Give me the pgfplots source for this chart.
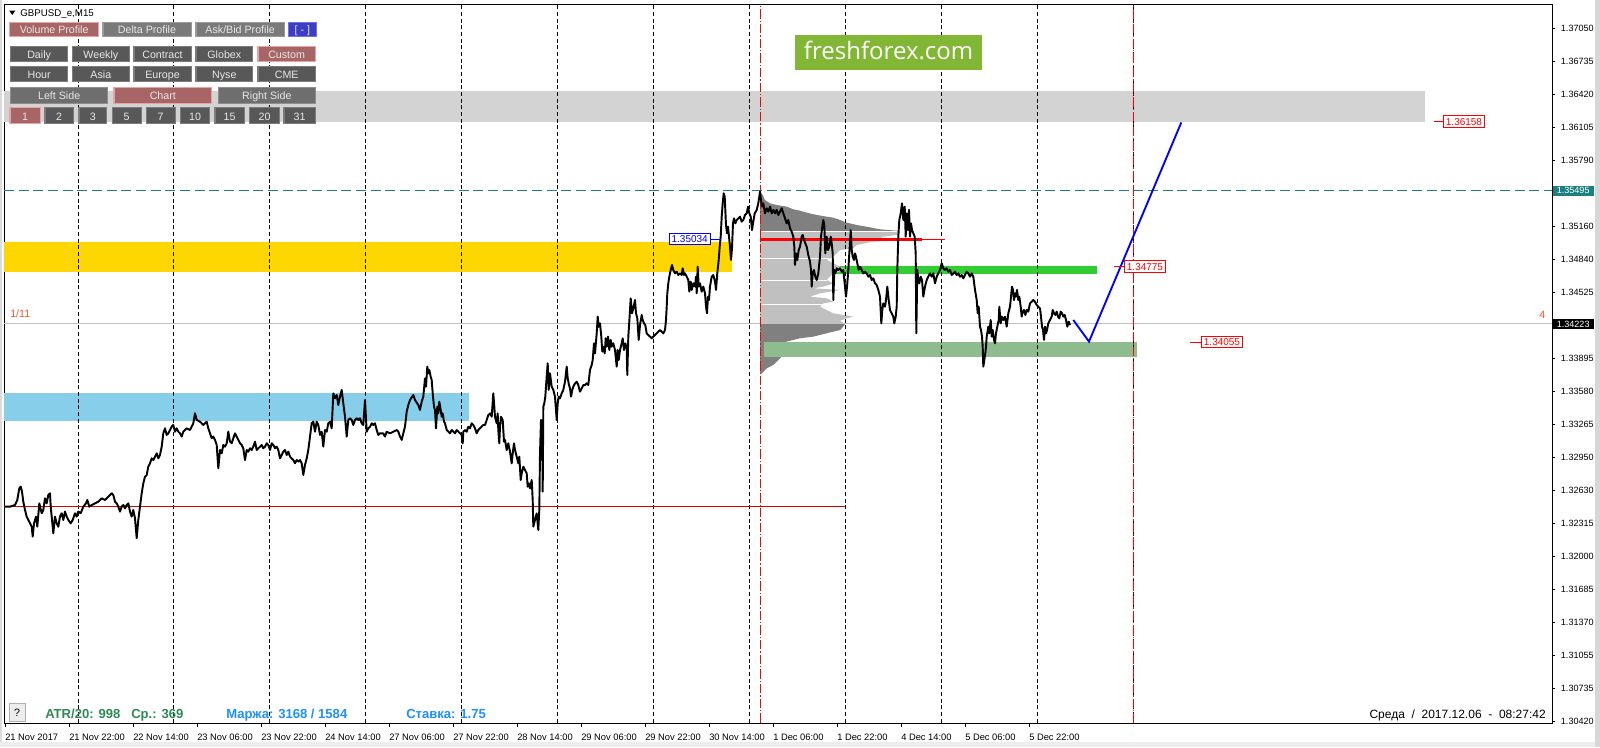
\documentclass[border=0pt]{standalone}
\usepackage{fontspec}
\setmainfont{Liberation Sans}
\newfontfamily\logofont{Open Sans}
\usepackage{pgfplots}
\pgfplotsset{compat=1.18}
\definecolor{bandgrey}{HTML}{D3D3D3}
\definecolor{goldc}{HTML}{FFD700}
\definecolor{skyb}{HTML}{87CEEB}
\definecolor{limeg}{HTML}{32CD32}
\definecolor{dsg}{HTML}{8FBC8F}
\definecolor{tealc}{HTML}{1A8080}
\definecolor{profdark}{HTML}{808080}
\definecolor{proflight}{HTML}{C0C0C0}
\definecolor{silverl}{HTML}{C0C0C0}
\definecolor{orng}{HTML}{F2592A}
\definecolor{seag}{HTML}{2E8B57}
\definecolor{dodger}{HTML}{1E90FF}
\definecolor{logog}{HTML}{82B735}
\definecolor{rosy}{HTML}{A86565}
\definecolor{rosyb}{HTML}{E3A5A5}
\definecolor{btngrey}{HTML}{7A7A7A}
\definecolor{btngreyb}{HTML}{9A9A9A}
\definecolor{btndark}{HTML}{585858}
\definecolor{btndarkb}{HTML}{7C7C7C}
\definecolor{btnmid}{HTML}{6E6E6E}
\definecolor{btnmidb}{HTML}{8E8E8E}
\definecolor{btnblue}{HTML}{3C3CC4}
\definecolor{btnblueb}{HTML}{7070F0}
\definecolor{btntext}{HTML}{E8E8E8}
\definecolor{pocred}{HTML}{FF0000}
\newcommand\lblfont{\fontsize{7.5}{9}\selectfont}
\newcommand\btnfont{\fontsize{8}{9}\selectfont}
\newcommand{\btn}[7]{%
  \fill[#5] (#1,#2) rectangle (#3,#4);
  \draw[#6, line width=0.9pt] (#1+0.6,#2+0.6) rectangle (#3-0.6,#4-0.6);
  \node[text=btntext, font=\btnfont, inner sep=0pt, text height=5.8pt, text depth=0pt] at ({(#1+#3)/2},{(#2+#4)/2+0.6}) {#7};}
\begin{document}
\begin{tikzpicture}
\path[use as bounding box, fill=white] (0,0) rectangle (1200pt,560.25pt);
\fill[bandgrey!80] (0pt,0pt) rectangle (1.5pt,560.25pt);
\fill[bandgrey!90] (1196pt,0pt) rectangle (1200pt,560.25pt);
\fill[bandgrey!40] (0pt,0pt) rectangle (1196pt,3.5pt);
\begin{axis}[
  at={(3pt,17.625pt)}, anchor=south west,
  scale only axis, width=1161pt, height=539.25pt,
  xmin=4, xmax=1552, ymin=1.304028, ymax=1.372776,
  clip mode=individual, no markers,
  axis line style={line width=0.75pt},
  tick style={black, line width=0.6pt},
  xtick pos=left, ytick pos=right, xticklabel pos=left, yticklabel pos=right,
  tick align=outside, major tick length=2.5pt,
  xtick={5,69,133,197,261,325,389,453,517,581,645,709,773,837,901,965,1029},
  xticklabels={21 Nov 2017,21 Nov 22:00,22 Nov 14:00,23 Nov 06:00,23 Nov 22:00,24 Nov 14:00,27 Nov 06:00,27 Nov 22:00,28 Nov 14:00,29 Nov 06:00,29 Nov 22:00,30 Nov 14:00,1 Dec 06:00,1 Dec 22:00,4 Dec 14:00,5 Dec 06:00,5 Dec 22:00},
  xticklabel style={font=\fontsize{7}{8}\selectfont, anchor=north west, inner sep=0pt, yshift=-4.8pt},
  ytick={1.37050,1.36735,1.36420,1.36105,1.35790,1.35475,1.35160,1.34840,1.34525,1.34210,1.33895,1.33580,1.33265,1.32950,1.32630,1.32315,1.32000,1.31685,1.31370,1.31055,1.30735,1.30420},
  yticklabels={1.37050,1.36735,1.36420,1.36105,1.35790,{},1.35160,1.34840,1.34525,{},1.33895,1.33580,1.33265,1.32950,1.32630,1.32315,1.32000,1.31685,1.31370,1.31055,1.30735,1.30420},
  yticklabel style={font=\fontsize{6.8}{8}\selectfont, anchor=west, inner sep=0pt, xshift=4pt},
]
% bands
\addplot[draw=none, fill=bandgrey] coordinates {(4,1.36154) (1425,1.36154) (1425,1.36450) (4,1.36450)};
\addplot[draw=none, fill=goldc] coordinates {(4,1.34723) (732,1.34723) (732,1.35009) (4,1.35009)};
\addplot[draw=none, fill=skyb] coordinates {(4,1.33291) (469,1.33291) (469,1.33564) (4,1.33564)};
\addplot[draw=none, fill=limeg] coordinates {(822,1.34701) (1097,1.34701) (1097,1.34780) (822,1.34780)};
% volume profile
\addplot[draw=none, fill=profdark] coordinates {(760,1.35488)(762.7,1.35456)(765,1.35408)(770,1.35376)(776.7,1.35360)(786.7,1.35345)(793.3,1.35319)(800,1.35306)(806.7,1.35287)(816.7,1.35265)(826.7,1.35249)(833.3,1.35239)(840,1.35217)(846.7,1.35192)(856.7,1.35169)(870,1.35147)(880,1.35128)(896.7,1.35115)(898.3,1.35105)(760,1.35105)};
\addplot[draw=none, fill=proflight] coordinates {(760,1.35105)(898.3,1.35105)(900,1.35090)(896.7,1.35074)(883.3,1.35058)(880,1.35042)(873.3,1.35035)(900,1.35026)(873.3,1.35010)(856.7,1.34978)(853.3,1.34946)(840,1.34930)(836.7,1.34898)(833.3,1.34866)(830,1.34850)(826.7,1.34835)(833.3,1.34803)(840,1.34771)(846.7,1.34739)(833.3,1.34707)(830,1.34675)(826.7,1.34643)(833.3,1.34611)(823.3,1.34580)(813.3,1.34564)(840,1.34548)(820,1.34516)(810,1.34484)(826.7,1.34468)(833.3,1.34436)(823.3,1.34420)(820,1.34388)(826.7,1.34356)(833.3,1.34325)(853.3,1.34293)(846.7,1.34277)(840,1.34254)(843.3,1.34235)(845,1.34223)(760,1.34223)};
\addplot[draw=none, fill=profdark] coordinates {(760,1.34223)(845,1.34223)(843.3,1.34197)(840,1.34165)(826.7,1.34134)(813.3,1.34102)(800,1.34086)(786.7,1.34054)(780,1.34038)(773.3,1.34022)(770,1.33990)(766.7,1.33974)(780,1.33958)(783.3,1.33926)(780,1.33894)(776.7,1.33863)(773.3,1.33831)(766.7,1.33799)(763,1.33760)(760,1.33740)};
\addplot[white, line width=0.6pt] coordinates {(760,1.35105)(897,1.35105)};
\addplot[white, line width=0.6pt] coordinates {(760,1.34850)(829,1.34850)};
\addplot[white, line width=0.6pt] coordinates {(760,1.34637)(827,1.34637)};
\addplot[white, line width=0.6pt] coordinates {(760,1.34414)(822,1.34414)};
\addplot[draw=none, fill=dsg] coordinates {(764,1.33910) (1137,1.33910) (1137,1.34050) (764,1.34050)};
% vertical grid lines
\pgfplotsinvokeforeach{78,173.5,269,365,461,557,653,749.5,845.5,941.5,1037.5,1133}{
  \addplot[black, line width=0.75pt, dash pattern=on 3pt off 2pt] coordinates {(#1,1.3041) (#1,1.3727)};
}
% horizontal lines
\addplot[tealc, line width=0.75pt, dash pattern=on 7.5pt off 3.5pt] coordinates {(4,1.35495) (1552,1.35495)};
\addplot[silverl, line width=0.75pt] coordinates {(4,1.34223) (1552,1.34223)};
\addplot[red!85!black, line width=0.75pt] coordinates {(4,1.32473) (845,1.32473)};
\addplot[pocred, line width=2.4pt] coordinates {(760,1.35030) (922,1.35030)};
\addplot[pocred, line width=0.75pt] coordinates {(922,1.35030) (945,1.35030)};
% red dashed verticals
\addplot[pocred, line width=0.75pt, dash pattern=on 7pt off 1.5pt on 1pt off 1.5pt] coordinates {(760,1.3041) (760,1.3727)};
\addplot[pocred, line width=0.75pt, dash pattern=on 7pt off 1.5pt on 1pt off 1.5pt] coordinates {(1133.5,1.3041) (1133.5,1.3727)};
% price
\addplot[black, line width=1.45pt, line join=round] coordinates {
(5,1.32476)(10,1.32476)(15,1.32492)(17.3,1.32540)(19.3,1.32652)(20.7,1.32668)(22,1.32620)(23.3,1.32524)(25,1.32444)(26.7,1.32381)(28.3,1.32349)(30,1.32317)(31.7,1.32285)(32.7,1.32190)(34,1.32317)(36,1.32381)(37.3,1.32285)(39.3,1.32508)(41.7,1.32413)(43.3,1.32444)(45,1.32556)(46.7,1.32508)(48.3,1.32588)(50,1.32604)(50.7,1.32476)(52.7,1.32285)(53.3,1.32221)(55,1.32381)(56.7,1.32317)(58.3,1.32285)(60,1.32381)(61.7,1.32413)(63.3,1.32349)(65,1.32429)(66.7,1.32381)(68.3,1.32349)(70.7,1.32317)(72.7,1.32349)(75,1.32413)(76.7,1.32381)(78.3,1.32429)(80.7,1.32413)(83.3,1.32476)(86,1.32508)(87.3,1.32540)(89.3,1.32476)(91.7,1.32492)(95,1.32508)(98.3,1.32524)(101.7,1.32556)(105,1.32540)(108.3,1.32572)(111.7,1.32604)(113.3,1.32588)(115,1.32524)(116.7,1.32508)(118.3,1.32476)(120,1.32429)(121.7,1.32476)(123.3,1.32492)(125,1.32460)(126.7,1.32492)(128.3,1.32508)(130,1.32429)(131.7,1.32381)(133.3,1.32444)(135,1.32365)(136.7,1.32174)(138.3,1.32349)(140,1.32476)(141.7,1.32604)(143.3,1.32699)(145,1.32763)(146.7,1.32779)(148.3,1.32859)(150,1.32891)(151.7,1.32938)(153.3,1.32922)(155,1.32954)(156.7,1.32986)(158.3,1.32938)(160,1.32970)(161.7,1.33050)(163.3,1.33177)(165,1.33225)(166.7,1.33162)(168.3,1.33177)(170,1.33209)(171.7,1.33241)(173.3,1.33257)(175,1.33193)(176.7,1.33225)(178.3,1.33193)(180,1.33177)(181.7,1.33146)(183.3,1.33193)(185,1.33209)(186.7,1.33225)(190,1.33209)(191.7,1.33241)(193.3,1.33273)(195,1.33369)(196.7,1.33305)(200,1.33289)(201.7,1.33273)(203.3,1.33257)(205,1.33273)(206.7,1.33289)(208.3,1.33225)(210,1.33177)(211.7,1.33130)(213.3,1.33146)(215,1.33114)(216.7,1.33066)(218.3,1.32843)(220,1.33018)(221.7,1.32986)(223.3,1.33066)(225,1.33050)(226.7,1.33082)(228.3,1.33193)(230,1.33098)(231.7,1.33082)(233.3,1.33130)(235,1.33177)(236.7,1.33146)(238.3,1.33114)(240,1.33082)(241.7,1.33066)(243.3,1.33034)(245,1.32922)(246.7,1.33018)(248.3,1.33002)(250,1.33034)(251.7,1.33018)(253.3,1.33050)(255,1.33098)(256.7,1.33018)(258.3,1.33034)(260,1.33050)(261.7,1.33066)(263.3,1.33034)(265,1.33050)(266.7,1.33082)(268.3,1.33066)(270,1.33018)(271.7,1.33082)(273.3,1.33066)(275,1.33034)(276.7,1.33050)(278.3,1.33018)(280,1.32938)(281.7,1.32970)(283.3,1.33002)(285,1.33018)(286.7,1.32970)(288.3,1.33002)(290,1.32954)(291.7,1.32938)(293.3,1.32922)(295,1.32891)(296.7,1.32922)(298.3,1.32907)(300,1.32922)(301.7,1.32891)(303.3,1.32779)(305,1.32875)(306.7,1.32938)(308.3,1.33018)(310,1.33146)(311.7,1.33273)(313.3,1.33289)(315,1.33193)(316.7,1.33289)(318.3,1.33257)(320,1.33162)(321.7,1.33193)(323.3,1.33050)(325,1.33209)(326.7,1.33193)(328.3,1.33273)(330,1.33289)(331.7,1.33225)(333.3,1.33560)(335,1.33512)(336.7,1.33544)(338.3,1.33448)(340,1.33528)(341.7,1.33592)(343.3,1.33464)(345,1.33337)(346.7,1.33146)(348.3,1.33305)(350,1.33321)(351.7,1.33305)(353.3,1.33257)(355,1.33305)(356.7,1.33321)(358.3,1.33305)(360,1.33321)(361.7,1.33273)(363.3,1.33257)(365,1.33496)(366.7,1.33193)(368.3,1.33225)(370,1.33241)(371.7,1.33273)(373.3,1.33257)(375,1.33273)(376.7,1.33209)(378.3,1.33162)(380,1.33177)(383.3,1.33177)(385,1.33146)(386.7,1.33193)(390,1.33177)(393.3,1.33193)(396.7,1.33209)(398.3,1.33193)(400,1.33146)(401.7,1.33114)(403.3,1.33177)(405,1.33241)(406.7,1.33385)(408.3,1.33448)(410,1.33496)(413.3,1.33544)(415,1.33496)(418.3,1.33448)(420,1.33401)
(421.7,1.33480)(423.3,1.33528)(425,1.33703)(426,1.33623)(427.3,1.33815)(428.3,1.33751)(429.3,1.33783)(430.7,1.33719)(431.7,1.33687)(432.7,1.33560)(434,1.33432)(435,1.33400)(436,1.33225)(437.3,1.33432)(438.3,1.33368)(439.3,1.33480)(440.7,1.33400)(441.7,1.33336)(442.7,1.33368)(444,1.33289)(445,1.33273)(446.7,1.33209)(448.3,1.33193)(450,1.33177)(451.7,1.33209)(453.3,1.33193)(455,1.33177)(456.7,1.33209)(458.3,1.33193)(460,1.33177)(461.7,1.33161)(462.7,1.33082)(463.3,1.33193)(465,1.33209)(466.7,1.33193)(468.3,1.33241)(470,1.33225)(471.7,1.33273)(473.3,1.33257)(475,1.33225)(476.7,1.33177)(478.3,1.33209)(480,1.33225)(481.7,1.33241)(483.3,1.33257)(485,1.33257)(486.7,1.33305)(488.3,1.33352)(490,1.33368)(491.7,1.33336)(493.3,1.33560)(494.3,1.33432)(495,1.33336)(496.7,1.33273)(497.7,1.33368)(498.3,1.33209)(499.3,1.33082)(500,1.33241)(501,1.33336)(502.7,1.33305)(504,1.33098)(505,1.33114)(506.7,1.33018)(508.3,1.33082)(510,1.33002)(511.7,1.32890)(512.7,1.32986)(514,1.33082)(515,1.33018)(516.7,1.32954)(518.3,1.32890)(519.3,1.32954)(520.7,1.32731)(521.7,1.32795)(523.3,1.32858)(525,1.32827)(526.7,1.32795)(527.7,1.32667)(529,1.32699)(530,1.32651)(531.7,1.32731)(532.7,1.32540)(533.3,1.32285)(535,1.32349)(536.7,1.32412)(538.3,1.32253)(539.3,1.32444)(540,1.32986)(541,1.33305)(541.7,1.32922)(542.3,1.33209)(542.7,1.32620)(543.3,1.33432)(544.3,1.33464)(545.3,1.33528)(546.7,1.33719)(547.7,1.33847)(548.7,1.33592)(550,1.33751)(551.7,1.33623)(553.3,1.33592)(555,1.33528)(556.7,1.33305)(557.7,1.33464)(558.7,1.33528)(560,1.33512)(561.7,1.33560)(563.3,1.33592)(565,1.33671)(566.7,1.33815)(567.7,1.33703)(569,1.33639)(570,1.33607)(571,1.33528)(572.3,1.33592)(573.3,1.33623)(575,1.33655)(576.7,1.33671)(578.3,1.33639)(580,1.33576)(581.7,1.33607)(583.3,1.33639)(585,1.33639)(586.7,1.33655)(588.3,1.33639)(590,1.33783)(591.7,1.33831)(592.7,1.33878)(594,1.34038)(595,1.33942)(596.7,1.34133)(597.7,1.34293)(598.7,1.34197)(600,1.34229)(601.3,1.34102)(602.3,1.33958)(603.3,1.34006)(604.7,1.33942)(605.7,1.34086)(606.7,1.34006)(608,1.34102)(609.3,1.33974)(610.7,1.34070)(611.7,1.34006)(613.3,1.34038)(615,1.33974)(616.7,1.33815)(617.7,1.33974)(618.7,1.33878)(620,1.33974)(621.3,1.34022)(622.7,1.34086)(624,1.33974)(625.3,1.34038)(626.7,1.33990)(627.3,1.33735)(628.3,1.34102)(629.3,1.34245)(630.7,1.34468)(632,1.34325)(633.3,1.34372)(635,1.34452)(636,1.34325)(637.3,1.34277)(638.7,1.34070)(640,1.34213)(641.7,1.34309)(642.7,1.34261)(644,1.34229)(645.3,1.34213)(646.7,1.34133)(648.3,1.34117)(650,1.34102)(651.7,1.34086)(653.3,1.34102)(655,1.34117)(656.7,1.34133)(658.3,1.34149)(660,1.34165)
(661.7,1.34149)(663.3,1.34133)(665,1.34165)(666,1.34261)(666.7,1.34388)(667.3,1.34516)(668.3,1.34612)(669.3,1.34675)(670.7,1.34739)(672,1.34787)(673.3,1.34739)(675,1.34707)(676.7,1.34723)(678.3,1.34691)(680,1.34707)(681.7,1.34691)(682.7,1.34755)(684,1.34691)(685,1.34707)(686.7,1.34675)(688.3,1.34643)(689.3,1.34532)(690.7,1.34628)(691.7,1.34548)(693.3,1.34612)(695,1.34580)(696,1.34675)(696.7,1.34516)(697.7,1.34771)(698.7,1.34580)(700,1.34612)(701.7,1.34532)(703.3,1.34580)(705,1.34516)(706,1.34388)(707,1.34325)(708,1.34484)(709,1.34452)(710,1.34580)(711.7,1.34675)(713.3,1.34691)(715,1.34628)(716,1.34548)(717.3,1.34707)(718.7,1.34835)(719.7,1.34962)(720.7,1.35058)(721.7,1.35249)(722.7,1.35376)(723.7,1.35472)(724.7,1.35440)(725.3,1.35313)(726,1.35169)(727,1.35090)(728,1.35153)(729,1.35058)(730,1.34962)(731,1.34835)(732,1.34946)(733,1.35185)(734,1.35233)(735.3,1.35185)(736.7,1.35217)(738.3,1.35233)(740,1.35249)(741.7,1.35201)(743.3,1.35217)(745,1.35265)(746.7,1.35281)(748,1.35345)(749.3,1.35281)(750.7,1.35249)(752,1.35121)(753.3,1.35201)(754.7,1.35281)
(756.7,1.35313)(758.3,1.35376)(760,1.35488)(761,1.35408)(762,1.35345)(763.3,1.35376)(765,1.35281)(766.7,1.35329)(768.3,1.35297)(770,1.35345)(771.7,1.35281)(773.3,1.35313)(775,1.35281)(776.7,1.35313)(778.3,1.35265)(780,1.35297)(781.7,1.35329)(783.3,1.35281)(785,1.35233)(786.7,1.35185)(788.3,1.35217)(790,1.35137)(791.7,1.35105)(793.3,1.35058)(794.3,1.34962)(795,1.34787)(796,1.34898)(797.3,1.34835)(798.7,1.34930)(800,1.34962)(801.7,1.35058)(802.7,1.35074)(804,1.35026)(805.3,1.34994)(806.7,1.34962)(808.3,1.34882)(810,1.34819)(811,1.34739)(811.7,1.34580)(812.7,1.34707)(814,1.34739)(815.3,1.34675)(816.7,1.34643)(818.3,1.34707)(820,1.34866)(821,1.35058)(822.3,1.35153)(823.3,1.35217)(824.3,1.35169)(825.3,1.34898)(826.7,1.35058)(828,1.34930)(829.3,1.34962)(830.7,1.35058)(831.7,1.34994)(832.7,1.34898)(833.3,1.34452)(834.3,1.34739)(835.3,1.34707)(836.7,1.34755)(838.3,1.34739)(840,1.34755)(841.7,1.34723)(843.3,1.34739)(845,1.34580)(846,1.34484)(847.3,1.34611)(848.3,1.34739)(849.3,1.34898)(850.7,1.35121)(851.7,1.34930)(852.7,1.34866)(854,1.34835)(855,1.34898)(856,1.34866)(857.3,1.34803)(858.7,1.34739)(860,1.34771)(861.7,1.34739)(863.3,1.34707)(865,1.34723)(866.7,1.34707)(868.3,1.34675)(870,1.34691)(871.7,1.34643)(873.3,1.34659)(875,1.34611)(876.7,1.34595)(878.3,1.34548)(880,1.34484)(881.3,1.34229)(882.3,1.34356)(883.3,1.34420)(885,1.34388)(886,1.34452)(887.3,1.34580)(888.7,1.34452)(890,1.34356)(891.7,1.34325)(893.3,1.34293)(894.3,1.34229)(895.7,1.34293)(896.7,1.34388)(897.3,1.34739)(898.3,1.35058)(899.3,1.35217)(900.7,1.35281)(902,1.35376)(903.3,1.35217)(904.7,1.35345)(905.7,1.35058)(906.7,1.35281)(908,1.35121)(909,1.35313)(910,1.35058)(911,1.35185)(912,1.35121)(913.3,1.35090)(914.7,1.35058)(915.7,1.34898)(916.3,1.34134)(917.3,1.34739)(918.3,1.34643)(919.3,1.34611)(920.7,1.34675)(922,1.34643)(923.3,1.34484)(925,1.34580)(926.7,1.34643)(928.3,1.34675)(930,1.34707)(931.7,1.34675)(933.3,1.34707)(935,1.34611)(936.7,1.34675)(938.3,1.34707)(940,1.34739)
(941.7,1.34803)(943.3,1.34755)(945,1.34739)(946.7,1.34755)(948.3,1.34723)(950,1.34739)(951.7,1.34691)(953.3,1.34707)(955,1.34723)(956.7,1.34691)(958.3,1.34707)(960,1.34675)(961.7,1.34691)(963.3,1.34659)(965,1.34691)(966.7,1.34723)(968.3,1.34707)(970,1.34675)(971.7,1.34707)(973.3,1.34675)(975,1.34548)(976.7,1.34452)(977.7,1.34325)(978.7,1.34388)(980,1.34197)(981,1.34165)(982,1.34102)(982.7,1.34006)(983.3,1.33815)(984.3,1.33878)(985.3,1.33942)(986,1.34006)(986.7,1.34102)(988.3,1.34197)(989.3,1.34133)(990.7,1.34261)(991.7,1.34102)(992.7,1.34165)(994,1.34070)(995,1.34038)(996,1.34133)(997.3,1.34197)(998.7,1.34261)(999.3,1.34388)(1000.7,1.34229)(1001.7,1.34293)(1003.3,1.34261)(1005,1.34293)(1006.7,1.34197)(1008.3,1.34325)(1010,1.34388)(1011,1.34484)(1012,1.34580)(1013,1.34548)(1014,1.34452)(1015,1.34516)(1016,1.34484)(1017,1.34548)(1018.3,1.34452)(1019.3,1.34484)(1020.7,1.34388)(1021.7,1.34293)(1022.7,1.34341)(1024,1.34357)(1025.3,1.34309)(1026.7,1.34357)(1028.3,1.34341)(1030,1.34420)(1031.7,1.34436)(1033.3,1.34452)(1035,1.34436)(1036.7,1.34404)(1038.3,1.34388)(1040,1.34372)(1041,1.34293)(1042,1.34197)(1043,1.34165)(1044,1.34070)(1045,1.34197)(1046,1.34133)(1047,1.34165)(1048.3,1.34229)(1050,1.34261)(1051.7,1.34293)(1052.7,1.34357)(1054,1.34325)(1055.3,1.34309)(1056.7,1.34341)(1058,1.34293)(1059.3,1.34277)(1060.7,1.34341)(1062,1.34325)(1063.3,1.34293)(1064.7,1.34309)(1066,1.34261)(1067.3,1.34197)(1068.7,1.34245)(1070,1.34213)
};
% forecast
\addplot[blue, line width=1.4pt] coordinates {(1073.3,1.34261) (1089,1.34054) (1181.3,1.36150)};
% price labels
\addplot[red, line width=0.75pt] coordinates {(1434,1.36158) (1443,1.36158)};
\addplot[red, line width=0.75pt] coordinates {(1114,1.34772) (1124,1.34772)};
\addplot[red, line width=0.75pt] coordinates {(1190,1.34050) (1201,1.34050)};
\addplot[blue, line width=0.75pt] coordinates {(710.7,1.35035) (720.7,1.35035)};
\node[draw=red, fill=white, text=red, font=\lblfont, line width=0.75pt, inner xsep=1.8pt, inner ysep=1.5pt, text height=5.6pt, text depth=0.3pt, anchor=west] at (axis cs:1443,1.36158) {1.36158};
\node[draw=red, fill=white, text=red, font=\lblfont, line width=0.75pt, inner xsep=1.8pt, inner ysep=1.5pt, text height=5.6pt, text depth=0.3pt, anchor=west] at (axis cs:1124,1.34772) {1.34775};
\node[draw=red, fill=white, text=red, font=\lblfont, line width=0.75pt, inner xsep=1.8pt, inner ysep=1.5pt, text height=5.6pt, text depth=0.3pt, anchor=west] at (axis cs:1201,1.34050) {1.34055};
\node[draw=blue, fill=white, text=blue, font=\lblfont, line width=0.75pt, inner xsep=1.8pt, inner ysep=1.5pt, text height=5.6pt, text depth=0.3pt, anchor=east] at (axis cs:710.7,1.35035) {1.35034};
% highlighted axis labels
\node[fill=tealc, text=white, font=\fontsize{6.8}{8}\selectfont, inner xsep=3pt, inner ysep=1.6pt, text height=4.6pt, text depth=0pt, anchor=west] at (axis cs:1552.5,1.35495) {1.35495};
\node[fill=black, text=white, font=\fontsize{6.8}{8}\selectfont, inner xsep=3pt, inner ysep=1.6pt, text height=4.6pt, text depth=0pt, anchor=west] at (axis cs:1552.5,1.34223) {1.34223};
\end{axis}
\begin{scope}[x=0.75pt,y=-0.75pt,shift={(0pt,560.25pt)}]
% header
\fill[black] (9.3,10.7) -- (15.3,10.7) -- (12.3,15) -- cycle;
\node[anchor=base west, inner sep=0pt, font=\fontsize{7.3}{8}\selectfont] at (20,16.7) {GBPUSD\_e,M15};
% buttons
\btn{9}{21.7}{99.3}{37.3}{rosy}{rosyb}{Volume Profile}
\btn{102.3}{21.7}{191.7}{37.3}{btngrey}{btngreyb}{Delta Profile}
\btn{195.3}{21.7}{285}{37.3}{btngrey}{btngreyb}{Ask/Bid Profile}
\btn{288}{21.7}{316.7}{37.3}{btnblue}{btnblueb}{[ - ]}
\btn{10}{45.7}{68.3}{62.3}{btndark}{btndarkb}{Daily}
\btn{71.7}{45.7}{130}{62.3}{btndark}{btndarkb}{Weekly}
\btn{133.3}{45.7}{191.7}{62.3}{btndark}{btndarkb}{Contract}
\btn{195.3}{45.7}{253.3}{62.3}{btndark}{btndarkb}{Globex}
\btn{257.3}{45.7}{316}{62.3}{rosy}{rosyb}{Custom}
\btn{10}{65.7}{68.3}{82.3}{btndark}{btndarkb}{Hour}
\btn{71.7}{65.7}{130}{82.3}{btndark}{btndarkb}{Asia}
\btn{133.3}{65.7}{191.7}{82.3}{btndark}{btndarkb}{Europe}
\btn{195.3}{65.7}{253.3}{82.3}{btndark}{btndarkb}{Nyse}
\btn{257.3}{65.7}{316}{82.3}{btndark}{btndarkb}{CME}
\btn{10}{86.7}{108.3}{104}{btnmid}{btnmidb}{Left Side}
\btn{113.3}{86.7}{212.3}{104}{rosy}{rosyb}{Chart}
\btn{217.7}{86.7}{316}{104}{btnmid}{btnmidb}{Right Side}
\btn{9.3}{107.3}{40.7}{124}{rosy}{rosyb}{1}
\btn{44.3}{107.3}{74}{124}{btndark}{btndarkb}{2}
\btn{78.3}{107.3}{107.3}{124}{btndark}{btndarkb}{3}
\btn{111.7}{107.3}{141.7}{124}{btndark}{btndarkb}{5}
\btn{145.7}{107.3}{175.7}{124}{btndark}{btndarkb}{7}
\btn{180}{107.3}{210}{124}{btndark}{btndarkb}{10}
\btn{214.3}{107.3}{245}{124}{btndark}{btndarkb}{15}
\btn{249}{107.3}{280}{124}{btndark}{btndarkb}{20}
\btn{283.3}{107.3}{316}{124}{btndark}{btndarkb}{31}
% logo
\fill[logog] (795,35) rectangle (982.3,70);
\node[text=white, font=\logofont\fontsize{18}{20}\selectfont, inner sep=0pt, anchor=base] at (888.6,60) {freshforex.com};
% markers on chart
\node[anchor=base west, inner sep=0pt, text=orng, font=\fontsize{8}{9}\selectfont] at (10,318) {1/11};
\node[anchor=base west, inner sep=0pt, text=orng, font=\fontsize{8}{9}\selectfont] at (1539,318.3) {4};
% bottom bar
\draw[bandgrey!60!gray, fill=bandgrey!40] (9,703) rectangle (25,721);
\node[anchor=base, inner sep=0pt, font=\fontsize{8}{9}\selectfont] at (17,716) {?};
\node[anchor=base west, inner sep=0pt, text=seag, font=\bfseries\fontsize{9.8}{11}\selectfont] at (45,718.5) {ATR/20: 998};
\node[anchor=base west, inner sep=0pt, text=seag, font=\bfseries\fontsize{9.8}{11}\selectfont] at (131,718.5) {Ср.: 369};
\node[anchor=base west, inner sep=0pt, text=dodger, font=\bfseries\fontsize{9.8}{11}\selectfont] at (226,718.5) {Маржа: 3168 / 1584};
\node[anchor=base west, inner sep=0pt, text=dodger, font=\bfseries\fontsize{9.8}{11}\selectfont] at (406,718.5) {Ставка: 1.75};
\node[anchor=base east, inner sep=0pt, font=\fontsize{9}{10}\selectfont] at (1546,718.3) {Среда\ \ /\ \ 2017.12.06\ \ -\ \ 08:27:42};
\end{scope}
\end{tikzpicture}
\end{document}
